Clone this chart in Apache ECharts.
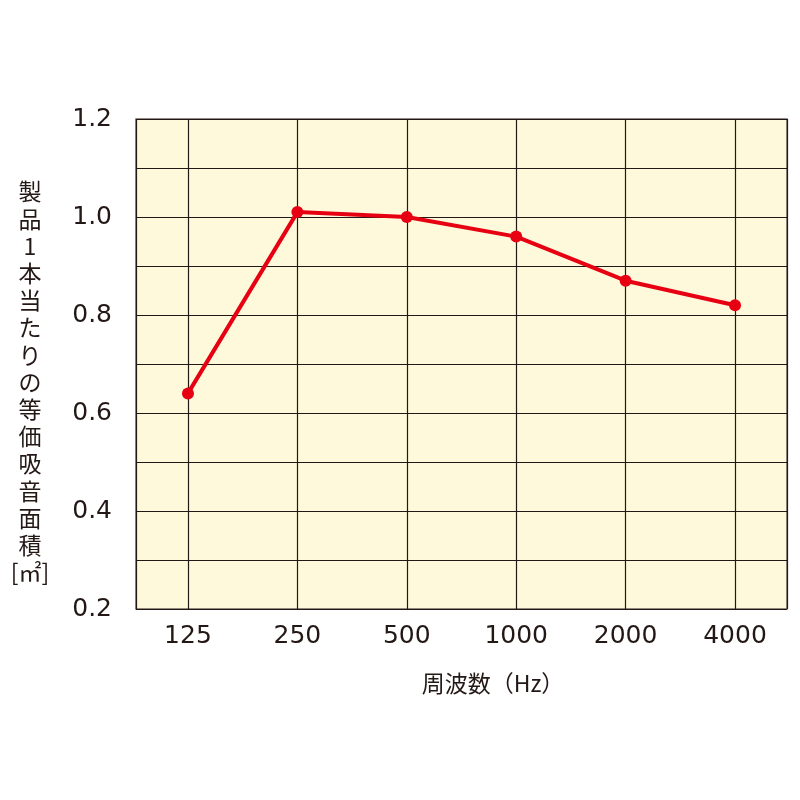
<!DOCTYPE html>
<html><head><meta charset="utf-8">
<script src="https://cdn.jsdelivr.net/npm/echarts@6/dist/echarts.min.js"></script>
<style>html,body{margin:0;padding:0;background:#fff}#c{width:800px;height:800px}</style>
</head><body><div id="c"></div>
<script>
const categories = ['125', '250', '500', '1000', '2000', '4000'];
const absorption = [0.64, 1.01, 1.00, 0.96, 0.87, 0.82];
const yTickLabels = ['0.2', '0.4', '0.6', '0.8', '1.0', '1.2'];
const yTitleChars = ['製', '品', '1', '本', '当', 'た', 'り', 'の', '等', '価', '吸', '音', '面', '積', '[㎡]'];
const xTitle = '周波数（Hz）';

const chart = echarts.init(document.getElementById('c'));
const numFont = 'DejaVu Sans';
const cjkFont = '"Noto Sans CJK JP"';
chart.setOption({
  animation: false,
  grid: { left: 136, top: 119, right: 13, bottom: 191, show: true, backgroundColor: '#FEF9DA', borderColor: '#6e665e', borderWidth: 1.5 },
  xAxis: {
    type: 'value', min: -0.475, max: 5.475, splitNumber: 6,
    axisLine: { show: false }, axisTick: { show: false },
    splitLine: { show: true, lineStyle: { color: '#231815', width: 1.2 } },
    axisLabel: {
      showMinLabel: false, showMaxLabel: false,
      margin: 15, fontFamily: numFont, fontSize: 25, color: '#231815',
      formatter: v => Number.isInteger(v) && categories[v] !== undefined ? categories[v] : ''
    }
  },
  yAxis: {
    type: 'value', min: 0.2, max: 1.2, interval: 0.1,
    axisLine: { show: false }, axisTick: { show: false },
    splitLine: { show: true, lineStyle: { color: '#231815', width: 1.2 } },
    axisLabel: {
      margin: 24, fontFamily: numFont, fontSize: 25, color: '#231815',
      formatter: v => {
        const s = v.toFixed(1);
        return yTickLabels.indexOf(s) >= 0 ? s : '';
      }
    }
  },
  graphic: [
    {
      type: 'text', x: 30, y: 382,
      style: {
        text: yTitleChars.join('\n'), font: '23px ' + cjkFont, fill: '#231815',
        align: 'center', verticalAlign: 'middle', lineHeight: 27.2
      }
    },
    {
      type: 'text', x: 493, y: 683,
      style: { text: xTitle, font: '23px ' + cjkFont, fill: '#231815', align: 'center', verticalAlign: 'middle' }
    }
  ],
  series: [{
    type: 'line',
    data: absorption.map((v, i) => [i, v]),
    symbol: 'circle', symbolSize: 12,
    lineStyle: { color: '#E60012', width: 4 },
    itemStyle: { color: '#E60012' }
  }]
});
</script></body></html>
